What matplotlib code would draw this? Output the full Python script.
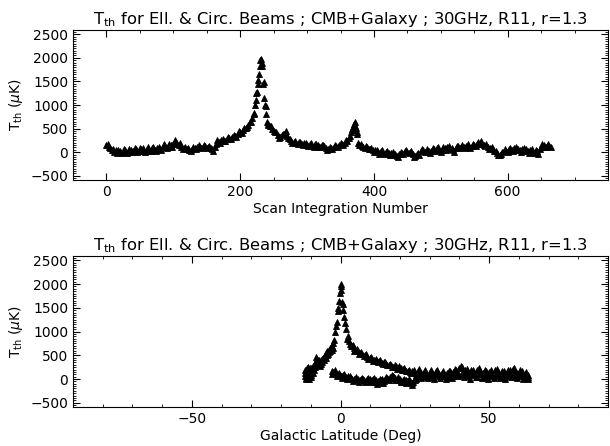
import numpy as np
import matplotlib
matplotlib.use('Agg')
import matplotlib.pyplot as plt
from matplotlib.ticker import MultipleLocator

plt.rcParams.update({'font.size': 10})

#Top panel: T_th vs scan integration number
#---------------------------
scan_num = [0, 4, 8, 12, 16, 20, 24, 28, 32, 36, 40, 44, 48, 52, 56, 60, 64, 68, 72, 76,
            80, 84, 88, 92, 96, 100, 104, 108, 112, 116, 120, 124, 128, 132, 136, 140, 144, 148, 152, 156,
            160, 164, 168, 172, 176, 180, 184, 188, 192, 196, 200, 204, 208, 212, 216, 218, 220, 221, 222, 223,
            224, 225, 226, 227, 228, 229, 230, 231, 232, 233, 234, 235, 236, 237, 238, 239, 240, 241, 242, 244,
            248, 252, 256, 260, 264, 268, 272, 276, 280, 284, 288, 292, 296, 300, 304, 308, 312, 316, 320, 324,
            328, 332, 336, 340, 344, 348, 352, 356, 360, 362, 364, 366, 367, 368, 369, 370, 371, 372, 373, 374,
            375, 376, 378, 382, 386, 390, 394, 398, 402, 406, 410, 414, 418, 422, 426, 430, 434, 438, 442, 446,
            450, 454, 458, 462, 466, 470, 474, 478, 482, 486, 490, 494, 498, 502, 506, 510, 514, 518, 522, 526,
            530, 534, 538, 542, 546, 550, 554, 558, 562, 566, 570, 574, 578, 582, 586, 590, 594, 598, 602, 606,
            610, 614, 618, 622, 626, 630, 634, 638, 642, 646, 650, 654, 658, 662, 665]
T_scan = [150, 110, 40, 10, -20, 20, 0, 40, 10, 50, 20, 60, 30, 70, 20, 60, 30, 80, 50, 90,
          60, 110, 140, 120, 150, 170, 220, 160, 120, 80, 60, 40, 70, 90, 110, 120, 110, 130, 110, 80,
          30, 180, 220, 250, 240, 280, 300, 320, 350, 380, 420, 460, 520, 580, 650, 720, 800, 830, 1000, 1100,
          1250, 1280, 1450, 1520, 1650, 1820, 1950, 1980, 1900, 1820, 1450, 1480, 1150, 1000, 980, 800, 650, 600, 580, 550,
          500, 430, 360, 320, 380, 440, 300, 240, 220, 200, 210, 180, 190, 160, 170, 140, 170, 150, 120, 160,
          80, 60, 90, 110, 140, 150, 180, 200, 240, 300, 350, 420, 500, 540, 480, 600, 560, 650, 520, 420,
          380, 200, 150, 130, 90, 100, 60, 50, 40, 0, 20, -10, 10, -20, -10, -60, -90, -30, -10, 20,
          10, 0, -40, -80, -20, 20, 40, 10, 30, 20, 60, 80, 40, 50, 90, 110, 60, 40, 80, 130,
          120, 100, 140, 110, 130, 150, 170, 200, 180, 140, 110, 80, 60, 20, -50, -30, 20, 30, 60, 40,
          90, 50, 40, 70, 30, 20, 40, 10, 40, -40, 120, 150, 100, 130, 120]

# in-between integrations (other edge of the band)
scan_num2 = [2, 6, 10, 14, 18, 22, 26, 30, 34, 38, 42, 46, 50, 54, 58, 62, 66, 70, 74, 78,
             82, 86, 90, 94, 98, 102, 106, 110, 114, 118, 122, 126, 130, 134, 138, 142, 146, 150, 154, 158,
             162, 166, 170, 174, 178, 182, 186, 190, 194, 198, 202, 206, 210, 214,
             246, 250, 254, 258, 262, 266, 270, 274, 278, 282, 286, 290, 294, 298, 302, 306, 310, 314, 318, 322,
             326, 330, 334, 338, 342, 346, 350, 354, 358,
             380, 384, 388, 392, 396, 400, 404, 408, 412, 416, 420, 424, 428, 432, 436, 440, 444, 448, 452, 456,
             460, 464, 468, 472, 476, 480, 484, 488, 492, 496, 500, 504, 508, 512, 516, 520, 524, 528, 532, 536,
             540, 544, 548, 552, 556, 560, 564, 568, 572, 576, 580, 584, 588, 592, 596, 600, 604, 608, 612, 616,
             620, 624, 628, 632, 636, 640, 644, 648, 652, 656, 660]
T_scan2 = [180, 90, 70, 40, 40, -10, 70, -10, 70, 0, 90, 10, 90, 80, 0, 100, 20, 110, 30, 120,
           40, 170, 90, 180, 120, 250, 180, 190, 60, 110, 90, 20, 120, 70, 160, 80, 160, 90, 140, 60,
           120, 260, 190, 280, 230, 330, 270, 370, 330, 440, 410, 510, 530, 630,
           560, 440, 420, 300, 360, 380, 350, 280, 190, 240, 170, 220, 150, 200, 130, 190, 120, 180, 110, 150,
           130, 40, 100, 70, 160, 120, 190, 160, 250,
           170, 100, 130, 70, 90, 10, 50, -30, 40, -40, 30, -50, 0, -40, -110, 10, -30, 50, -20, 20,
           -100, -30, -50, 60, 0, 60, -10, 80, 30, 100, 0, 110, 50, 130, 90, 10, 140, 90, 160, 80,
           170, 90, 180, 130, 220, 240, 150, 170, 60, 110, 30, -20, -70, 0, 60, 10, 90, 30, 110, 70,
           10, 90, 60, -10, 60, -20, 20, 60, 170, 110, 170]

#Bottom panel: T_th vs galactic latitude (two branches of the scan)
#---------------------------
lat_upper = [-11.8, -11.8, -11.6, -11.5, -11.4, -11.2, -11.0, -10.8, -10.6, -10.4, -10.2, -10.0, -9.8, -9.5, -9.2,
             -9.0, -8.7, -8.4, -8.1, -7.8, -7.5, -7.2, -6.9, -6.6, -6.3, -6.0, -5.6, -5.2, -4.8, -4.4,
             -4.0, -3.6, -3.2, -2.8, -2.4, -2.1, -1.8, -1.5, -1.3, -1.0, -0.8, -0.5, -0.3, 0.0, 0.1,
             0.3, 0.5, 0.7, 1.0, 1.3, 1.6, 1.9, 2.3, 2.7, 3.2, 3.8, 4.4, 5.0, 5.8, 6.6,
             7.4, 8.2, 9.0, 9.8, 10.6, 11.4, 12.2, 13.0, 13.8, 14.6, 15.4, 16.2, 17.0, 17.8, 18.6,
             19.4, 20.2, 21.0, 21.8, 22.6, 23.4, 24.2, 25.0, 26, 27, 28, 29, 30, 31, 32,
             33, 34, 35, 36, 37, 38, 39, 40, 41, 42, 43, 44, 45, 46, 47,
             48, 49, 50, 51, 52, 53, 54, 55, 56, 57, 58, 59, 60, 61, 62, 63]
T_upper = [60, 180, 120, 20, 240, 90, 150, 50, 200, 110, 170, 80, 230, 150, 280,
           200, 330, 380, 460, 420, 380, 330, 360, 400, 430, 450, 470, 500, 540, 580,
           620, 650, 660, 700, 760, 820, 1000, 1120, 1200, 1430, 1500, 1650, 1820, 1950, 1990,
           1880, 1630, 1580, 1450, 1300, 1180, 1050, 850, 800, 740, 700, 650, 620, 580, 550,
           520, 500, 470, 440, 420, 400, 380, 370, 340, 350, 310, 300, 290, 260, 270,
           240, 230, 210, 190, 170, 150, 160, 130, 170, 120, 150, 90, 140, 110, 160,
           100, 130, 80, 120, 170, 140, 180, 230, 260, 190, 150, 180, 130, 200, 160,
           120, 170, 140, 110, 180, 150, 100, 160, 130, 200, 220, 150, 120, 170, 110, 80]

lat_upper2 = [-11.9, -11.7, -11.3, -11.1, -10.9, -10.7, -10.5, -10.3, -10.1, -9.9, -9.6, -9.3, -8.9, -8.6, -8.3,
              -7.9, -7.6, -7.3, -7.0, -6.7, -6.4, -6.1, -5.8, -5.4, -5.0, -4.6, -4.2, -3.8, -3.4, -3.0,
              -2.6, 2.5, 3.5, 4.1, 4.7, 5.4, 6.2, 7.0, 7.8, 8.6, 9.4, 10.2, 11.0, 11.8, 12.6,
              13.4, 14.2, 15.0, 15.8, 16.6, 17.4, 18.2, 19.0, 19.8, 20.6, 21.4, 22.2, 23.0, 23.8, 24.6,
              25.5, 26.5, 27.5, 28.5, 29.5, 30.5, 31.5, 32.5, 33.5, 34.5, 35.5, 36.5, 37.5, 38.5, 39.5,
              40.5, 41.5, 42.5, 43.5, 44.5, 45.5, 46.5, 47.5, 48.5, 49.5, 50.5, 51.5, 52.5, 53.5, 54.5,
              55.5, 56.5, 57.5, 58.5, 59.5, 60.5, 61.5, 62.5, 63.0]
T_upper2 = [130, 0, 170, 40, 260, 110, 10, 230, 140, 40, 210, 120, 260, 250, 300,
            340, 300, 410, 280, 320, 370, 360, 420, 410, 450, 500, 530, 560, 590, 620,
            650, 900, 690, 720, 600, 640, 530, 570, 480, 520, 430, 460, 380, 420, 350,
            390, 320, 360, 290, 320, 250, 300, 220, 270, 190, 240, 160, 200, 120, 180,
            90, 210, 70, 190, 30, 180, 10, 200, 20, 170, -10, 160, 30, 210, 60,
            280, 50, 220, 10, 200, 40, 230, 20, 190, -10, 180, 20, 210, 30, 170,
            0, 190, 40, 240, 20, 190, 0, 150, -10]

lat_lower = [-3.0, -2.6, -2.2, -1.8, -1.4, -1.0, -0.6, -0.2, 0.2, 0.6, 1.0, 1.5, 2.0, 2.5, 3.0,
             3.5, 4.0, 4.5, 5.0, 5.5, 6.0, 6.5, 7.0, 7.5, 8.0, 8.5, 9.0, 9.5, 10.0, 10.5,
             11.0, 11.5, 12.0, 12.5, 13.0, 13.5, 14.0, 14.5, 15.0, 15.5, 16.0, 16.5, 17.0, 17.5, 18.0,
             18.5, 19.0, 19.5, 20.0, 20.5, 21.0, 21.5, 22.0, 22.5, 23.0, 23.5, 24.0, 24.5, 25.0, 25.5,
             26, 27, 28, 29, 30, 31, 32, 33, 34, 35, 36, 37, 38, 39, 40,
             41, 42, 43, 44, 45, 46, 47, 48, 49, 50, 51, 52, 53, 54, 55,
             56, 57, 58, 59, 60, 61, 62, 63]
T_lower = [170, 140, 120, 130, 100, 110, 80, 90, 70, 60, 80, 50, 40, 60, 20,
           30, 0, -10, 10, -20, 0, -30, -10, 10, -20, -40, 0, -20, 10, -30,
           -10, -60, -20, -40, -70, -30, 0, -50, -10, 20, 10, 50, 30, 60, 40,
           20, 0, -20, -10, -40, -20, -60, -30, -50, -70, -40, -90, -60, -20, 10,
           40, 20, 60, 40, 80, 50, 90, 60, 100, 70, 40, 90, 60, 110, 80,
           130, 100, 60, 110, 80, 50, 100, 70, 40, 90, 60, 100, 70, 40, 90,
           60, 110, 80, 50, 90, 60, 30, 50]

lat_lower2 = [-2.8, -2.0, -1.2, -0.4, 0.4, 1.2, 2.2, 3.2, 4.2, 5.2, 6.2, 7.2, 8.2, 9.2, 10.2,
              11.2, 12.2, 13.2, 14.2, 15.2, 16.2, 17.2, 18.2, 19.2, 20.2, 21.2, 22.2, 23.2, 24.2, 25.2]
T_lower2 = [110, 180, 60, 130, 20, 110, 0, 70, -50, 40, -60, 30, -70, 30, -60,
            20, -100, 10, -90, 40, -30, 90, -20, 40, -70, 10, -90, 0, -120, 20]

title = r'T$_{\rm th}$ for Ell. & Circ. Beams ; CMB+Galaxy ; 30GHz, R11, r=1.3'
ylab = r'T$_{\rm th}$ ($\mu$K)'
mk = dict(linestyle='none', marker='^', color='k', markersize=4.2, markeredgewidth=0.6)

def style_axis(ax, xmaj, xmin):
    ax.set_ylim(-590, 2590)
    ax.set_yticks([-500, 0, 500, 1000, 1500, 2000, 2500])
    ax.yaxis.set_minor_locator(MultipleLocator(50))
    ax.xaxis.set_major_locator(MultipleLocator(xmaj))
    ax.xaxis.set_minor_locator(MultipleLocator(xmin))
    ax.tick_params(which='both', direction='in', top=True, right=True)
    ax.tick_params(which='major', length=5, width=0.8)
    ax.tick_params(which='minor', length=2.5, width=0.6)
    ax.set_ylabel(ylab, labelpad=4)
    ax.set_title(title, fontsize=11.8, pad=4)

fig = plt.figure(figsize=(6.1, 4.46), dpi=100)

ax1 = fig.add_axes([0.1197, 0.5964, 0.877, 0.3363])
ax1.plot(scan_num, T_scan, **mk)
ax1.plot(scan_num2, T_scan2, **mk)
ax1.set_xlim(-50, 750)
style_axis(ax1, 200, 50)
ax1.set_xlabel('Scan Integration Number', labelpad=2)

ax2 = fig.add_axes([0.1197, 0.0874, 0.877, 0.3386])
ax2.plot(lat_upper, T_upper, **mk)
ax2.plot(lat_upper2, T_upper2, **mk)
ax2.plot(lat_lower, T_lower, **mk)
ax2.plot(lat_lower2, T_lower2, **mk)
ax2.set_xlim(-90, 90)
style_axis(ax2, 50, 10)
ax2.set_xlabel('Galactic Latitude (Deg)', labelpad=2)

plt.savefig('out.png', dpi=100)
